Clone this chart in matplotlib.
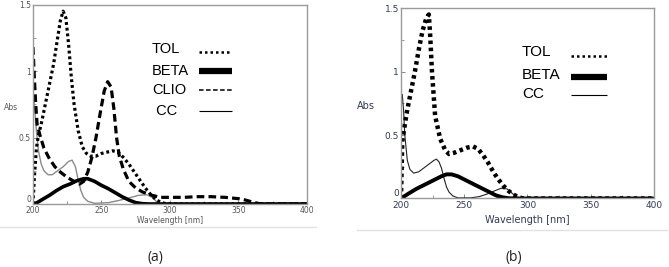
import matplotlib
matplotlib.use("Agg")
import matplotlib.pyplot as plt
from matplotlib.lines import Line2D
from matplotlib.ticker import MultipleLocator

# ---- panel (a) spectra (wavelength nm, absorbance) ----
tol_a_nm = [200, 201, 202.5, 204, 206, 209, 212, 215, 218, 220, 222, 224, 226, 228, 230, 233, 236,
            239, 242, 246, 250, 254, 258, 262, 266, 270, 274, 278, 282, 286, 290, 294, 298, 400]
tol_a_abs = [0.0, 0.2, 0.42, 0.52, 0.6, 0.75, 0.9, 1.05, 1.25, 1.38, 1.45, 1.4, 1.2, 0.95, 0.75, 0.55, 0.43,
             0.38, 0.36, 0.36, 0.38, 0.39, 0.40, 0.39, 0.35, 0.3, 0.24, 0.18, 0.12, 0.07, 0.03, 0.01, 0.0, 0.0]

beta_a_nm = [200, 203, 207, 212, 217, 222, 227, 232, 237, 240, 245, 250, 255, 260, 265, 270, 275, 280, 285, 400]
beta_a_abs = [0.0, 0.01, 0.035, 0.065, 0.1, 0.13, 0.15, 0.175, 0.19, 0.19, 0.17, 0.14, 0.115, 0.085, 0.055,
              0.03, 0.01, 0.002, 0.0, 0.0]

clio_a_nm = [200, 201, 202, 203, 205, 208, 212, 216, 220, 225, 230, 234, 237, 240, 243, 246, 249, 252, 254.5,
             257, 259, 261, 263, 266, 270, 275, 280, 287, 293, 300, 310, 320, 330, 340, 350, 355, 360, 365, 370, 400]
clio_a_abs = [1.18, 0.95, 0.75, 0.6, 0.52, 0.42, 0.34, 0.28, 0.24, 0.2, 0.17, 0.15, 0.17, 0.24, 0.35, 0.5, 0.68,
              0.85, 0.92, 0.88, 0.72, 0.5, 0.36, 0.26, 0.17, 0.12, 0.09, 0.065, 0.05, 0.05, 0.05, 0.055, 0.055,
              0.05, 0.04, 0.03, 0.015, 0.003, 0.0, 0.0]

cc_a_nm = [200, 201, 202.5, 204, 206, 208, 211, 214, 218, 222, 226, 228.5, 231, 233, 235, 237, 240, 245,
           255, 262, 270, 277, 283, 287, 291, 295, 400]
cc_a_abs = [0.85, 0.75, 0.55, 0.40, 0.30, 0.25, 0.22, 0.22, 0.25, 0.28, 0.32, 0.33, 0.28, 0.18, 0.10, 0.05,
            0.02, 0.005, 0.01, 0.025, 0.045, 0.065, 0.07, 0.05, 0.01, 0.0, 0.0]

# ---- panel (b) spectra ----
tol_b_nm = [200, 201, 203, 205, 208, 211, 214, 217, 220, 222, 223, 224.5, 227, 231, 235, 238, 242, 247,
            252, 257, 261, 265, 269, 273, 277, 281, 285, 289, 293, 297, 400]
tol_b_abs = [0.0, 0.45, 0.58, 0.7, 0.85, 1.0, 1.17, 1.32, 1.42, 1.45, 1.3, 1.0, 0.65, 0.47, 0.38, 0.35, 0.36,
             0.38, 0.4, 0.41, 0.39, 0.34, 0.28, 0.21, 0.15, 0.1, 0.06, 0.03, 0.01, 0.0, 0.0]

beta_b_nm = [200, 203, 207, 212, 217, 222, 227, 232, 236, 240, 245, 250, 255, 260, 265, 270, 275, 280, 285, 290, 400]
beta_b_abs = [0.0, 0.02, 0.045, 0.075, 0.1, 0.125, 0.15, 0.175, 0.19, 0.19, 0.175, 0.15, 0.125, 0.1, 0.075,
              0.05, 0.025, 0.01, 0.002, 0.0, 0.0]

cc_b_nm = [200, 201, 202, 203, 205, 207, 210, 214, 218, 222, 226, 228, 230, 232, 234, 236, 238, 241, 245,
           255, 262, 268, 274, 279, 284, 288, 292, 296, 400]
cc_b_abs = [0.8, 0.82, 0.7, 0.5, 0.3, 0.23, 0.2, 0.21, 0.24, 0.27, 0.3, 0.31, 0.29, 0.24, 0.16, 0.09, 0.05,
            0.02, 0.005, 0.005, 0.015, 0.035, 0.06, 0.08, 0.075, 0.04, 0.01, 0.0, 0.0]

x_ticks = [200, 250, 300, 350, 400]
y_ticks = [0, 0.5, 1, 1.5]
y_tick_labels = ["0", "0.5", "1", "1.5"]

legend_a = ["TOL", "BETA", "CLIO", " CC"]
legend_b = ["TOL", "BETA", "CC"]

fig = plt.figure(figsize=(6.69, 2.67), dpi=100)
ax_a = fig.add_axes([0.0493, 0.236, 0.4096, 0.747])
ax_b = fig.add_axes([0.5994, 0.2566, 0.378, 0.713])


def style_axes(ax, tick_color, tick_size, label_size, label_pad):
    ax.set_xlim(200, 400)
    ax.set_ylim(0, 1.5)
    ax.set_xticks(x_ticks)
    ax.set_yticks(y_ticks)
    ax.set_yticklabels(y_tick_labels)
    ax.get_yticklabels()[0].set_verticalalignment("bottom")
    ax.xaxis.set_minor_locator(MultipleLocator(25))
    ax.yaxis.set_minor_locator(MultipleLocator(0.25))
    ax.tick_params(which="both", direction="in", colors="#888888", labelcolor=tick_color,
                   labelsize=tick_size, pad=1.5)
    ax.tick_params(which="major", length=3, width=0.7)
    ax.tick_params(which="minor", length=2, width=0.6)
    for s in ax.spines.values():
        s.set_color("#9a9a9a")
        s.set_linewidth(1.0)
    ax.set_xlabel("Wavelength [nm]", fontsize=label_size, color=tick_color, labelpad=label_pad)


def key(ax, labels, styles, text_x, text_y, line_x0, line_x1, line_y, size):
    # hand-placed key: text left aligned, sample line to the right
    for lab, st, ty, ly in zip(labels, styles, text_y, line_y):
        ax.text(text_x, ty, lab, transform=ax.transAxes, ha="left", va="center",
                fontsize=size, family="Liberation Sans")
        ax.plot([line_x0, line_x1], [ly, ly], transform=ax.transAxes, color="black",
                solid_capstyle="butt", dash_capstyle="butt", clip_on=False, **st)


# panel (a)
style_axes(ax_a, "#555555", 5.5, 5.5, 1)
ax_a.plot(cc_a_nm, cc_a_abs, color="#8a8a8a", lw=1.0)
ax_a.plot(beta_a_nm, beta_a_abs, color="black", lw=2.6, solid_capstyle="butt")
ax_a.plot(clio_a_nm, clio_a_abs, color="black", lw=2.3, linestyle=(0, (2.4, 1.3)))
ax_a.plot(tol_a_nm, tol_a_abs, color="black", lw=2.3, linestyle=(0, (0.9, 0.9)))
ax_a.set_ylabel("Abs", rotation=0, fontsize=5.5, color="#555555")
ax_a.yaxis.set_label_coords(-0.08, 0.46)

styles_a = [dict(lw=1.8, linestyle=(0, (1, 1.2))), dict(lw=4.5), dict(lw=1.1, linestyle=(0, (3, 1.6))),
            dict(lw=0.8)]
key(ax_a, legend_a, styles_a, 0.434, [0.777, 0.667, 0.571, 0.466], 0.606, 0.726,
    [0.762, 0.667, 0.571, 0.466], 10.5)

# panel (b)
style_axes(ax_b, "#33395a", 6.5, 7.0, 4)
ax_b.plot(cc_b_nm, cc_b_abs, color="#222222", lw=0.8)
ax_b.plot(beta_b_nm, beta_b_abs, color="black", lw=2.8, solid_capstyle="butt")
ax_b.plot(tol_b_nm, tol_b_abs, color="black", lw=3.2, linestyle=(0, (0.8, 0.8)))
ax_b.set_ylabel("Abs", rotation=0, fontsize=7, color="#33395a")
ax_b.yaxis.set_label_coords(-0.14, 0.46)

styles_b = [dict(lw=1.8, linestyle=(0, (1, 1.2))), dict(lw=4.5), dict(lw=0.8)]
key(ax_b, legend_b, styles_b, 0.478, [0.769, 0.648, 0.549], 0.672, 0.814,
    [0.747, 0.640, 0.543], 11)

# separators and panel captions
fig.add_artist(Line2D([0.0, 0.472], [0.15, 0.15], color="#e2e2e2", lw=1.0))
fig.add_artist(Line2D([0.534, 0.997], [0.139, 0.139], color="#e2e2e2", lw=1.0))
fig.text(0.232, 0.037, "(a)", ha="center", va="center", fontsize=10, family="Open Sans", color="#222222")
fig.text(0.768, 0.037, "(b)", ha="center", va="center", fontsize=10, family="Open Sans", color="#222222")

fig.savefig("out.png", dpi=100)
